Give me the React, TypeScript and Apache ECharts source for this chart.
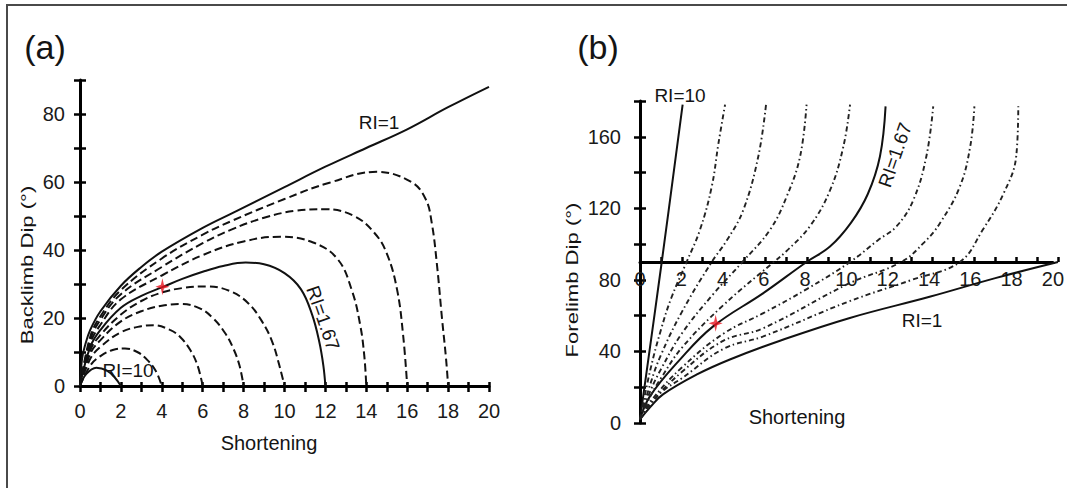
import React, { useEffect, useRef } from "react";
import * as echarts from "echarts";

const FONT = "'Liberation Sans', Arial, Helvetica, sans-serif";
const INK = "#111";

// ---------- Panel (a): Backlimb dip vs shortening ----------
const aRI1 = [[0,0],[0.1,8],[0.25,12],[0.5,16.5],[1,22],[2,29.5],[3,35],[4,39.5],[6,46.5],[7.5,51],[10,58.5],[12,64.5],[14,70],[16,75.5],[18,82],[20,88]];
const aRI167 = [[0,0],[0.5,11.5],[1,16.5],[2,23],[3,26.5],[4,29],[5,31.5],[6,33.6],[7,35.3],[8.1,36.3],[9,35.8],[10,33.2],[10.8,28.5],[11.35,21],[11.7,13],[11.9,6],[12,0]];
const aRI10 = [[0,0],[0.3,3.5],[0.8,5.4],[1.3,4.6],[1.7,2.5],[2,0]];
const aC4 = [[0,0],[0.5,6],[1,8.8],[1.6,10.6],[2.2,11],[2.8,10],[3.3,7.6],[3.7,4.5],[4,0]];
const aC6 = [[0,0],[0.5,8],[1,11.5],[2,15.8],[3,17.6],[3.6,17.9],[4.4,16.5],[4.9,14.4],[5.4,10.5],[5.75,6],[6,0]];
const aC8 = [[0,0],[0.5,9.5],[1,13.5],[2,19],[3,22],[4,23.6],[4.9,24.1],[5.8,23],[6.5,20],[7.1,15.5],[7.5,11],[7.8,6],[8,0]];
const aC10 = [[0,0],[0.5,10.5],[1,15],[2,21],[3,25],[4,27.5],[5,28.8],[6.2,29.3],[7.3,28],[8.2,24.5],[8.9,19],[9.4,13],[9.75,6],[10,0]];
const aC14 = [[0,0],[0.5,12.5],[1,18],[2,25.5],[4,32.5],[6,38.5],[8,42.5],[9.8,43.9],[11.4,42.2],[12.6,37.3],[13.3,28],[13.7,18],[13.9,9],[14,0]];
const aC16 = [[0,0],[0.5,13.5],[1,19.5],[2,27],[4,35],[6,42],[7.4,46],[9,49.5],[10.5,51.5],[12,52],[13.4,50],[14.4,45],[15,39],[15.5,28.5],[15.8,15],[16,0]];
const aC18 = [[0,0],[0.5,14.5],[1,20.5],[2,28.2],[4,37.5],[6,44.5],[7.4,48.5],[10,55],[12.2,59.8],[14.5,63],[16.2,60],[16.9,55],[17.2,48],[17.45,36],[17.7,20],[17.9,8],[18,0]];
const aStar = [[4.03, 29.2]];

// ---------- Panel (b): Forelimb dip vs shortening ----------
const bRI1 = [[0,2],[0.5,9],[1.1,16],[2.7,27],[4.3,35.5],[6.7,46],[10,58.6],[13.9,70.7],[17,81],[20,90]];
const bRI167 = [[0,2],[0.48,15],[1.91,35.4],[3.5,54],[5.9,72.6],[7.97,90],[9.09,98.6],[10.1,112],[10.9,128],[11.48,149],[11.75,177]];
const bRI10 = [[0,2],[1.04,90],[2.04,178]];
const bC4 = [[0,2],[0.5,30],[1,52],[1.5,70],[2.23,90],[2.87,108],[3.43,132],[3.75,156],[4.07,178]];
const bC6 = [[0,2],[0.5,22],[1,38],[2,62],[3.43,90],[4.15,102],[4.94,119],[5.66,149],[6.03,178]];
const bC8 = [[0,2],[0.5,18],[1,30],[2,50],[3.5,72],[4.9,90],[6.22,108],[7.02,126.6],[7.66,149],[7.97,178]];
const bC10 = [[0,2],[0.5,15],[1,25],[2,42],[4,66],[6.4,90],[7.0,96],[8.13,110],[9.09,130],[9.73,154.5],[10.05,178]];
const bC14 = [[0,2],[0.5,12],[2,31],[4,50],[5.9,61.4],[8,75],[10.05,90],[11.4,102.3],[12.28,110],[13.08,124.7],[13.7,149],[14.03,177]];
const bC16 = [[0,2],[0.5,11],[2,28.5],[4,46],[5.9,53],[10,78],[12.5,90],[13.6,101],[14.35,111.7],[15.3,132],[15.8,154.5],[16.0,177]];
const bC18 = [[0,2],[0.5,10],[1.1,18],[2,25],[4,41.5],[5.9,48.4],[10,68],[13,80],[15.3,90],[16.4,108],[17.4,128.4],[18.0,149],[18.1,177]];
const bStar = [[3.62, 55.7]];

// ---------- Axis ticks ----------
const xTicksA = [0, 20, 1];   // min, max, interval
const yTicksA = [0, 90, 10];
const xTicksB = [0, 20, 1];
const yTicksB = [0, 180, 20];

const STAR = "path://M0,-10 L2.2,-2.2 L10,0 L2.2,2.2 L0,10 L-2.2,2.2 L-10,0 L-2.2,-2.2 Z";

function lineSeries(data: number[][], idx: number, type: any, width = 2, color = INK) {
  return {
    type: "line",
    xAxisIndex: idx,
    yAxisIndex: idx,
    data,
    symbol: "none",
    showSymbol: false,
    smooth: 0.4,
    clip: false,
    silent: true,
    lineStyle: { color, width, type },
    z: 3,
  };
}

export default function App() {
  const ref = useRef<HTMLDivElement>(null);

  useEffect(() => {
    if (!ref.current) return;
    const chart = echarts.init(ref.current, undefined, { renderer: "svg" });

    const gA = { left: 80, top: 80, width: 409, height: 306 };
    const gB = { left: 640, top: 101, width: 418, height: 322 };
    const gBx = { left: 640, top: 101, width: 418, height: 161 };

    const lbl = { fontFamily: FONT, fontSize: 20, color: "#1a1a1a" };
    const evenFmt = (v: number) => (v % 2 === 0 ? String(v) : "");
    const tickStyle = { color: "#000", width: 2.5 };
    const lineStyle = { color: "#000", width: 3 };
    const none = { show: false };

    const dashA = [8, 4];
    const dashB = [5, 3, 1.5, 3];
    const txt = (x: number, y: number, text: string, size: number, extra: any = {}) => ({
      type: "text", x, y, ...extra,
      style: { text, font: `${size}px ${FONT}`, fill: "#141414", align: "center", verticalAlign: "middle" },
    });

    const option: any = {
      animation: false,
      backgroundColor: "#fff",
      grid: [
        { ...gA, containLabel: false },
        { ...gA, containLabel: false },
        { ...gB, containLabel: false },
        { ...gBx, containLabel: false },
        { ...gB, containLabel: false },
        { ...gBx, containLabel: false },
      ],
      xAxis: [
        {
          gridIndex: 0, type: "value", min: xTicksA[0], max: xTicksA[1], interval: xTicksA[2],
          axisLine: { onZero: false, lineStyle }, axisTick: { length: 6, lineStyle: tickStyle },
          axisLabel: { ...lbl, margin: 15, formatter: evenFmt }, splitLine: none,
        },
        {
          gridIndex: 1, type: "value", min: xTicksA[0], max: xTicksA[1], interval: xTicksA[2],
          axisLine: none, axisTick: { inside: true, length: 4, lineStyle: tickStyle },
          axisLabel: none, splitLine: none,
        },
        { gridIndex: 2, type: "value", min: xTicksB[0], max: xTicksB[1], show: false },
        {
          gridIndex: 3, type: "value", min: xTicksB[0], max: xTicksB[1], interval: xTicksB[2],
          axisLine: { onZero: false, lineStyle }, axisTick: { length: 2, lineStyle: tickStyle },
          axisLabel: { ...lbl, margin: 7, formatter: evenFmt }, splitLine: none,
        },
        { gridIndex: 4, type: "value", min: xTicksB[0], max: xTicksB[1], show: false },
        {
          gridIndex: 5, type: "value", min: xTicksB[0], max: xTicksB[1], interval: xTicksB[2],
          axisLine: none, axisTick: { inside: true, length: 5, lineStyle: tickStyle },
          axisLabel: none, splitLine: none,
        },
      ],
      yAxis: [
        {
          gridIndex: 0, type: "value", min: yTicksA[0], max: yTicksA[1], interval: yTicksA[2],
          axisLine: { show: true, onZero: false, lineStyle }, axisTick: { show: true, length: 6, lineStyle: tickStyle },
          axisLabel: { ...lbl, margin: 15, formatter: (v: number) => (v % 20 === 0 ? String(v) : "") },
          splitLine: none,
        },
        {
          gridIndex: 1, type: "value", min: yTicksA[0], max: yTicksA[1], interval: yTicksA[2],
          axisLine: none, axisTick: { show: true, inside: true, length: 6, lineStyle: tickStyle },
          axisLabel: none, splitLine: none,
        },
        {
          gridIndex: 2, type: "value", min: yTicksB[0], max: yTicksB[1], interval: yTicksB[2],
          axisLine: { show: true, onZero: false, lineStyle }, axisTick: { show: true, length: 6, lineStyle: tickStyle },
          axisLabel: { ...lbl, margin: 19, formatter: (v: number) => (v % 40 === 0 && v !== 180 ? String(v) : "") },
          splitLine: none,
        },
        { gridIndex: 3, type: "value", min: 0, max: 90, show: false },
        {
          gridIndex: 4, type: "value", min: yTicksB[0], max: yTicksB[1], interval: yTicksB[2],
          axisLine: none, axisTick: { show: true, inside: true, length: 6, lineStyle: tickStyle },
          axisLabel: none, splitLine: none,
        },
        { gridIndex: 5, type: "value", min: 0, max: 90, show: false },
      ],
      series: [
        lineSeries(aRI1, 0, "solid"),
        lineSeries(aRI167, 0, "solid"),
        lineSeries(aRI10, 0, "solid"),
        lineSeries(aC4, 0, dashA),
        lineSeries(aC6, 0, dashA),
        lineSeries(aC8, 0, dashA),
        lineSeries(aC10, 0, dashA),
        lineSeries(aC14, 0, dashA),
        lineSeries(aC16, 0, dashA),
        lineSeries(aC18, 0, dashA),
        {
          type: "scatter", xAxisIndex: 0, yAxisIndex: 0, data: aStar, symbol: STAR,
          symbolSize: [14, 17], itemStyle: { color: "#e8141f" }, z: 5, silent: true,
        },
        lineSeries(bRI1, 2, "solid"),
        lineSeries(bRI167, 2, "solid"),
        lineSeries(bRI10, 2, "solid"),
        lineSeries(bC4, 2, dashB, 1.9, "#222"),
        lineSeries(bC6, 2, dashB, 1.9, "#222"),
        lineSeries(bC8, 2, dashB, 1.9, "#222"),
        lineSeries(bC10, 2, dashB, 1.9, "#222"),
        lineSeries(bC14, 2, dashB, 1.9, "#222"),
        lineSeries(bC16, 2, dashB, 1.9, "#222"),
        lineSeries(bC18, 2, dashB, 1.9, "#222"),
        {
          type: "scatter", xAxisIndex: 2, yAxisIndex: 2, data: bStar, symbol: STAR,
          symbolSize: [14, 17], itemStyle: { color: "#e8141f" }, z: 5, silent: true,
        },
      ],
      graphic: [
        { type: "rect", shape: { x: 7, y: 5, width: 1080, height: 500 }, style: { fill: "none", stroke: "#4a4a4a", lineWidth: 2 }, silent: true },
        txt(45, 47, "(a)", 34),
        txt(598, 47, "(b)", 34),
        txt(27, 265, "Backlimb Dip (°)", 17, { rotation: Math.PI / 2, scaleX: 1.3 }),
        txt(572, 280, "Forelimb Dip (°)", 17, { rotation: Math.PI / 2, scaleX: 1.3 }),
        txt(269, 443, "Shortening", 20),
        txt(797, 417, "Shortening", 20),
        txt(379, 122, "RI=1", 19),
        txt(323, 318, "RI=1.67", 19, { rotation: -71 * Math.PI / 180 }),
        txt(128, 370, "RI=10", 19),
        txt(680, 95, "RI=10", 19),
        txt(895, 155, "RI=1.67", 19, { rotation: 71 * Math.PI / 180 }),
        txt(922, 320, "RI=1", 19),
      ],
    };

    chart.setOption(option);
    return () => chart.dispose();
  }, []);

  return (
    <div
      ref={ref}
      style={{ position: "fixed", left: 0, top: 0, width: 1067, height: 488, background: "#fff" }}
    />
  );
}
